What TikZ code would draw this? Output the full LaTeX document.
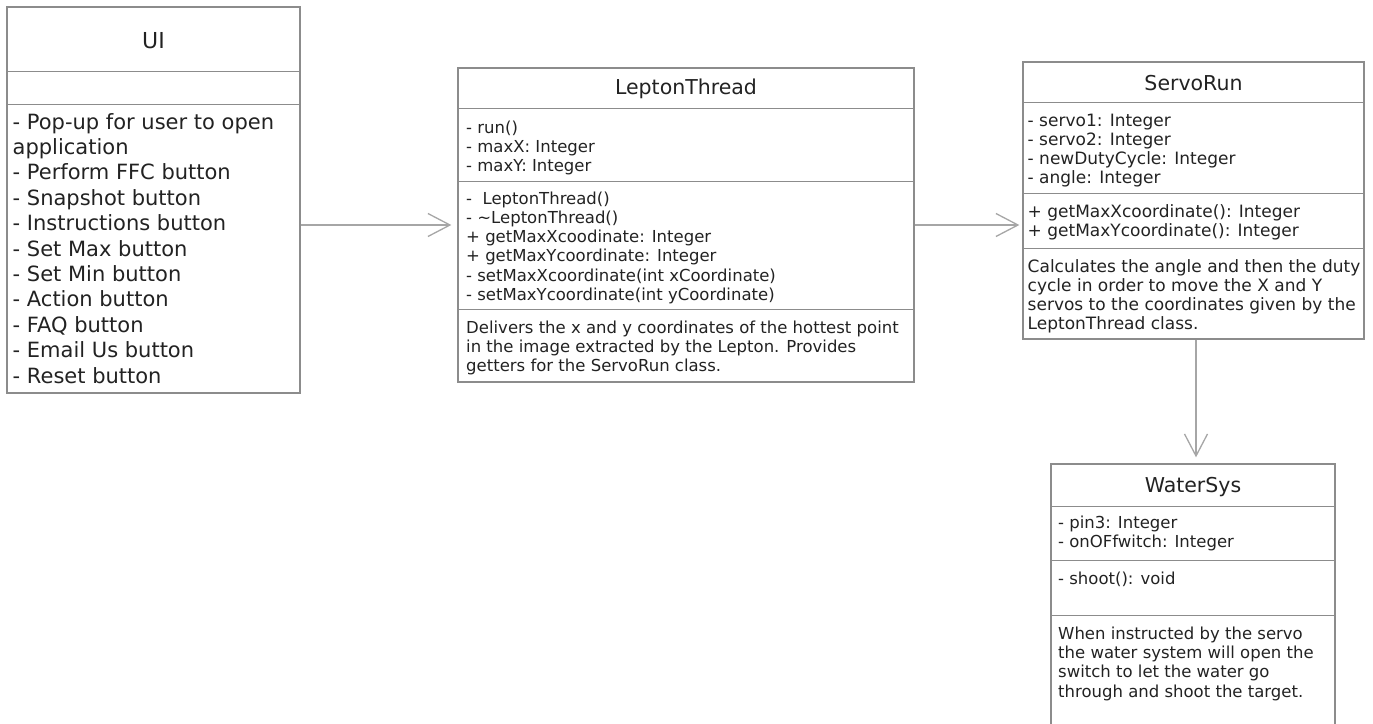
\documentclass[tikz,border=0pt]{standalone}
\usepackage{fontspec}
\setmainfont{DejaVu Sans}
\usetikzlibrary{arrows.meta}
\definecolor{umlborder}{HTML}{8C8C8C}
\definecolor{umlarrow}{HTML}{A6A6A6}
\definecolor{umltext}{HTML}{222222}

\begin{document}
\begin{tikzpicture}[x=1pt, y=-1pt,
  classbox/.style={draw=umlborder, line width=1.3pt, rectangle, inner sep=0pt},
  sepline/.style={umlborder, line width=1.3pt},
  classtitle/.style={text=umltext, inner sep=0pt, font=\fontsize{20.5}{24}\selectfont},
  % multi-line text: base anchor sits on the last line
  members/.style={text=umltext, anchor=base west, inner sep=0pt, align=left, font=\fontsize{16.5}{19.3}\selectfont},
  assoc/.style={umlarrow, line width=1.3pt, -{Straight Barb[length=22pt, width=23pt]}, shorten >=6pt}]
\useasboundingbox (0,0) rectangle (1373,723);

% UI
\node[classbox, minimum width=293pt, minimum height=386pt] (ui) at (153.5,200) {};
\draw[sepline] ([yshift=-65pt]ui.north west) -- ([yshift=-65pt]ui.north east);
\draw[sepline] ([yshift=-98pt]ui.north west) -- ([yshift=-98pt]ui.north east);
\node[classtitle, font=\fontsize{22}{26}\selectfont] (uiname) at (153.5,41) {UI};
\node[members, font=\fontsize{21}{25.4}\selectfont] (uibody) at (12.5,383) {- Pop-up for user to open\\application\\- Perform FFC button\\- Snapshot button\\- Instructions button\\- Set Max button\\- Set Min button\\- Action button\\- FAQ button\\- Email Us button\\- Reset button};

% LeptonThread
\node[classbox, minimum width=456pt, minimum height=314pt] (lepton) at (686,225) {};
\draw[sepline] ([yshift=-41pt]lepton.north west) -- ([yshift=-41pt]lepton.north east);
\draw[sepline] ([yshift=-114pt]lepton.north west) -- ([yshift=-114pt]lepton.north east);
\draw[sepline] ([yshift=-242pt]lepton.north west) -- ([yshift=-242pt]lepton.north east);
\node[classtitle] (leptonname) at (686,89) {LeptonThread};
\node[members] (leptonattr) at (466,171.6) {- run()\\- maxX: Integer\\- maxY: Integer};
\node[members] (leptonops) at (466,300.5) {-~ LeptonThread()\\- \textasciitilde LeptonThread()\\+ getMaxXcoodinate: Integer\\+ getMaxYcoordinate: Integer\\- setMaxXcoordinate(int xCoordinate)\\- setMaxYcoordinate(int yCoordinate)};
\node[members] (leptondesc) at (466,371.6) {Delivers the x and y coordinates of the hottest point\\in the image extracted by the Lepton. Provides\\getters for the ServoRun class.};

% ServoRun
\node[classbox, minimum width=341pt, minimum height=277pt] (servo) at (1193.5,200.5) {};
\draw[sepline] ([yshift=-41pt]servo.north west) -- ([yshift=-41pt]servo.north east);
\draw[sepline] ([yshift=-132pt]servo.north west) -- ([yshift=-132pt]servo.north east);
\draw[sepline] ([yshift=-187pt]servo.north west) -- ([yshift=-187pt]servo.north east);
\node[classtitle] (servoname) at (1193.5,83) {ServoRun};
\node[members, font=\fontsize{17}{19}\selectfont] (servoattr) at (1027.5,183) {- servo1: Integer\\- servo2: Integer\\- newDutyCycle: Integer\\- angle: Integer};
\node[members, font=\fontsize{17}{19}\selectfont] (servoops) at (1027.5,236) {+ getMaxXcoordinate(): Integer\\+ getMaxYcoordinate(): Integer};
\node[members, font=\fontsize{17}{19}\selectfont] (servodesc) at (1027.5,329) {Calculates the angle and then the duty\\cycle in order to move the X and Y\\servos to the coordinates given by the\\LeptonThread class.};

% WaterSys
\node[classbox, minimum width=284pt, minimum height=276pt] (water) at (1193,602) {};
\draw[sepline] ([yshift=-43pt]water.north west) -- ([yshift=-43pt]water.north east);
\draw[sepline] ([yshift=-97pt]water.north west) -- ([yshift=-97pt]water.north east);
\draw[sepline] ([yshift=-152pt]water.north west) -- ([yshift=-152pt]water.north east);
\node[classtitle] (watername) at (1193,487) {WaterSys};
\node[members] (waterattr) at (1058,547.3) {- pin3: Integer\\- onOFfwitch: Integer};
\node[members] (waterops) at (1058,584) {- shoot(): void};
\node[members] (waterdesc) at (1058,697) {When instructed by the servo\\the water system will open the\\switch to let the water go\\through and shoot the target.};

% connectors
\draw[assoc] (ui.east |- lepton.west) -- (lepton.west);
\draw[assoc, shorten >=3pt] (lepton.east) -- (lepton.east -| servo.west);
\draw[assoc] ([xshift=3pt]servo.south -| water.north) -- ([xshift=3pt]water.north);
\end{tikzpicture}
\end{document}
